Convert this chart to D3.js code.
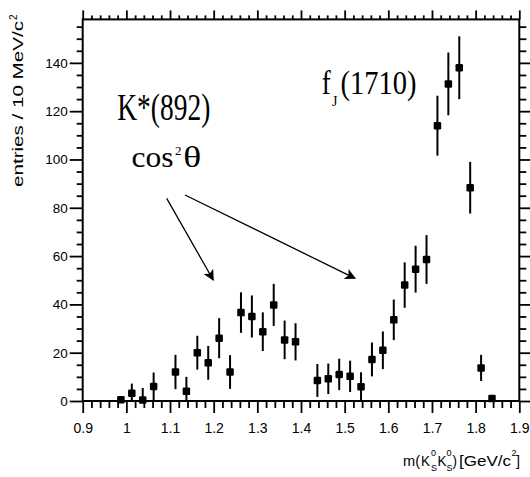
<!DOCTYPE html>
<html>
<head>
<meta charset="utf-8">
<script src="https://cdn.jsdelivr.net/npm/d3@7/dist/d3.min.js"></script>
<style>
  html, body { margin: 0; padding: 0; background: #fff; }
  svg { display: block; }
  .tick text { font-family: "Liberation Sans", Arial, sans-serif; fill: #000; }
</style>
</head>
<body>
<script>
// K0S K0S invariant mass spectrum, bin centres in GeV/c^2
const mass = [0.9875, 1.0125, 1.0375, 1.0625, 1.1125, 1.1375, 1.1625, 1.1875, 1.2125, 1.2375,
              1.2625, 1.2875, 1.3125, 1.3375, 1.3625, 1.3875, 1.4375, 1.4625, 1.4875, 1.5125,
              1.5375, 1.5625, 1.5875, 1.6125, 1.6375, 1.6625, 1.6875, 1.7125, 1.7375, 1.7625,
              1.7875, 1.8125, 1.8375];
const entries = [0.5, 3.2, 0.4, 6, 12, 4, 20, 15.8, 26, 12,
                 36.6, 35, 28.7, 39.8, 25.3, 24.5, 8.5, 9.2, 11, 10.2,
                 5.9, 17.2, 21, 33.6, 48, 54.6, 58.6, 114, 131.3, 138,
                 88.3, 13.7, 1];
const errors = [1, 4, 5, 5.8, 7.1, 6, 7, 7, 8.3, 7,
                8.4, 8.7, 8, 8.7, 8, 7.7, 6.8, 6.3, 6.5, 6.5,
                6, 7, 7.8, 8.4, 9.4, 9.7, 10.1, 12.4, 13, 13,
                10.7, 5.4, 1];

// axis tick labels
const xTicks = [0.9, 1, 1.1, 1.2, 1.3, 1.4, 1.5, 1.6, 1.7, 1.8, 1.9];
const yTicks = [0, 20, 40, 60, 80, 100, 120, 140];

// annotation arrows, in data units: [m0, n0, m1, n1]
const arrows = [
  [1.0924, 83.9, 1.199, 50.1],
  [1.1343, 85.3, 1.5237, 50.8]
];

const W = 530, H = 477;
const svg = d3.select("body").append("svg").attr("width", W).attr("height", H);

const x = d3.scaleLinear().domain([0.9, 1.9]).range([82.7, 519.3]);
const y = d3.scaleLinear().domain([0, 158]).range([401, 19.4]);

const xMinor = d3.range(0.9, 1.9001, 0.02).filter(v => Math.abs(Math.round(v * 10) - v * 10) > 1e-6);
const yMinor = d3.range(0, 158.01, 5).filter(v => v % 20 !== 0);

function styleAxis(g) {
  g.select(".domain").remove();
  g.selectAll(".tick line").attr("stroke", "#000").attr("stroke-width", 1.8);
}

// bottom axis
svg.append("g").attr("transform", `translate(0,${y(0)})`)
  .call(d3.axisBottom(x).tickValues(xTicks).tickSize(12).tickPadding(10)
        .tickFormat(d => d3.format("")(+d.toFixed(1))))
  .call(styleAxis)
  .call(g => g.selectAll(".tick text").attr("font-size", 14));
svg.append("g").attr("transform", `translate(0,${y(0)})`)
  .call(d3.axisBottom(x).tickValues(xMinor).tickSize(7).tickFormat(""))
  .call(styleAxis);

// top axis
svg.append("g").attr("transform", `translate(0,${y.range()[1]})`)
  .call(d3.axisTop(x).tickValues(xTicks).tickSize(9).tickFormat(""))
  .call(styleAxis);
svg.append("g").attr("transform", `translate(0,${y.range()[1]})`)
  .call(d3.axisTop(x).tickValues(xMinor).tickSize(4).tickFormat(""))
  .call(styleAxis);

// left axis
svg.append("g").attr("transform", `translate(${x(0.9)},0)`)
  .call(d3.axisLeft(y).tickValues(yTicks).tickSize(13).tickPadding(2))
  .call(styleAxis)
  .call(g => g.selectAll(".tick text").attr("font-size", 13.5));
svg.append("g").attr("transform", `translate(${x(0.9)},0)`)
  .call(d3.axisLeft(y).tickValues(yMinor).tickSize(6).tickFormat(""))
  .call(styleAxis);

// right axis
svg.append("g").attr("transform", `translate(${x(1.9)},0)`)
  .call(d3.axisRight(y).tickValues(yTicks).tickSize(11).tickFormat(""))
  .call(styleAxis);
svg.append("g").attr("transform", `translate(${x(1.9)},0)`)
  .call(d3.axisRight(y).tickValues(yMinor).tickSize(7).tickFormat(""))
  .call(styleAxis);

// frame
svg.append("rect")
  .attr("x", x(0.9)).attr("y", y.range()[1])
  .attr("width", x(1.9) - x(0.9)).attr("height", y(0) - y.range()[1])
  .attr("fill", "none").attr("stroke", "#000").attr("stroke-width", 2);

// data points with error bars
const pts = mass.map((m, i) => ({ m, n: entries[i], e: errors[i] }));
const pg = svg.append("g");
pg.selectAll("line.err").data(pts).join("line")
  .attr("class", "err")
  .attr("x1", d => x(d.m)).attr("x2", d => x(d.m))
  .attr("y1", d => y(Math.max(0, d.n - d.e))).attr("y2", d => y(d.n + d.e))
  .attr("stroke", "#000").attr("stroke-width", 2);
const ms = 7.5;
pg.selectAll("rect.pt").data(pts).join("rect")
  .attr("class", "pt")
  .attr("x", d => x(d.m) - ms / 2).attr("y", d => y(d.n) - ms / 2)
  .attr("width", ms).attr("height", ms).attr("rx", 1.2)
  .attr("fill", "#000");

// arrows
const defs = svg.append("defs");
defs.append("marker").attr("id", "head")
  .attr("viewBox", "0 0 10 10").attr("refX", 9).attr("refY", 5)
  .attr("markerWidth", 13).attr("markerHeight", 11)
  .attr("markerUnits", "userSpaceOnUse").attr("orient", "auto")
  .append("path").attr("d", "M0,0 L10,5 L0,10 L2.5,5 Z").attr("fill", "#000");
svg.append("g").selectAll("line").data(arrows).join("line")
  .attr("x1", d => x(d[0])).attr("y1", d => y(d[1]))
  .attr("x2", d => x(d[2])).attr("y2", d => y(d[3]))
  .attr("stroke", "#000").attr("stroke-width", 1.3)
  .attr("marker-end", "url(#head)");

// annotation text (serif)
const serif = "'Liberation Serif', 'Times New Roman', serif";
svg.append("text").attr("x", 117.3).attr("y", 120)
  .attr("font-family", serif).attr("font-size", 38)
  .attr("textLength", 93).attr("lengthAdjust", "spacingAndGlyphs")
  .text("K*(892)");
svg.append("text").attr("x", 131.5).attr("y", 166.5)
  .attr("font-family", serif).attr("font-size", 30)
  .attr("textLength", 42).attr("lengthAdjust", "spacingAndGlyphs")
  .text("cos");
svg.append("text").attr("x", 175).attr("y", 155)
  .attr("font-family", serif).attr("font-size", 13)
  .text("2");
svg.append("text").attr("x", 183.3).attr("y", 166.5)
  .attr("font-family", serif).attr("font-size", 30)
  .attr("textLength", 18).attr("lengthAdjust", "spacingAndGlyphs")
  .text("θ");

svg.append("text").attr("x", 321.7).attr("y", 94.3)
  .attr("font-family", serif).attr("font-size", 34)
  .attr("textLength", 9).attr("lengthAdjust", "spacingAndGlyphs")
  .text("f");
svg.append("text").attr("x", 332).attr("y", 106)
  .attr("font-family", serif).attr("font-size", 14)
  .text("J");
svg.append("text").attr("x", 340.5).attr("y", 94.3)
  .attr("font-family", serif).attr("font-size", 34)
  .attr("textLength", 76).attr("lengthAdjust", "spacingAndGlyphs")
  .text("(1710)");

// y axis title
const sans = "'Liberation Sans', Arial, Helvetica, sans-serif";
const yt = svg.append("g").attr("transform", "translate(23.3,187) rotate(-90)");
yt.append("text").attr("x", 0).attr("y", 0)
  .attr("font-family", sans).attr("font-size", 15)
  .attr("textLength", 166).attr("lengthAdjust", "spacingAndGlyphs")
  .text("entries / 10 MeV/c");
yt.append("text").attr("x", 167).attr("y", -6)
  .attr("font-family", sans).attr("font-size", 10)
  .text("2");

// x axis title: m(K0S K0S) [GeV/c2]
const xt = svg.append("g").attr("font-family", sans).attr("fill", "#000");
const base = 465.5;
function piece(t, px, py, size, len) {
  const el = xt.append("text").attr("x", px).attr("y", py).attr("font-size", size).text(t);
  if (len) el.attr("textLength", len).attr("lengthAdjust", "spacingAndGlyphs");
  return el;
}
piece("m(", 403, base, 14, 17);
piece("K", 421, base, 14, 9);
piece("0", 431, base - 10, 9);
piece("S", 431, base + 5, 9);
piece("K", 437.5, base, 14, 9);
piece("0", 446.5, base - 10, 9);
piece("S", 446.5, base + 5, 9);
piece(")", 452.5, base, 14, 4.5);
piece("[GeV/c", 459, base, 14, 52);
piece("2", 511.5, base - 10, 9);
piece("]", 516, base, 14, 4);
</script>
</body>
</html>
